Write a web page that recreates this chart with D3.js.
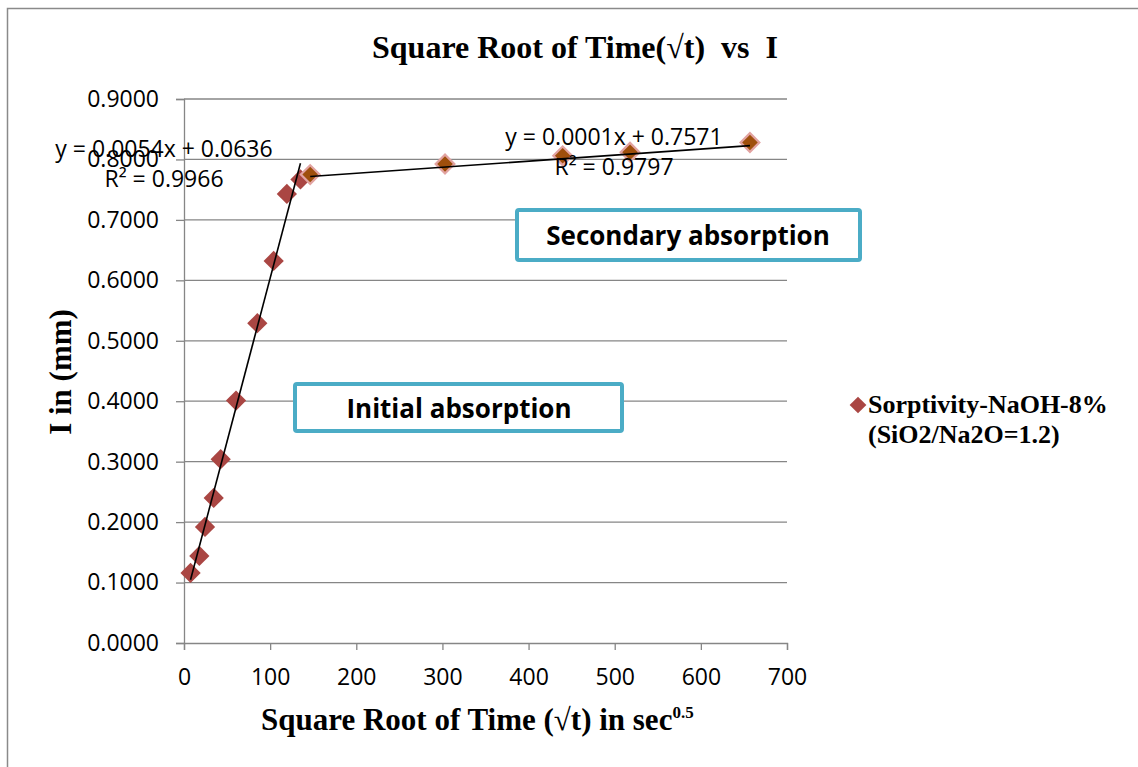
<!DOCTYPE html>
<html>
<head>
<meta charset="utf-8">
<script src="https://cdn.jsdelivr.net/npm/d3@7"></script>
<style>
  html, body { margin: 0; padding: 0; background: #ffffff; }
  svg { display: block; }
  .sans { font-family: "Open Sans", "Liberation Sans", sans-serif; }
  .serif { font-family: "Liberation Serif", "Times New Roman", serif; font-weight: bold; }
</style>
</head>
<body>
<svg id="chart" width="1138" height="767"></svg>
<script>
// Sorptivity test: cumulative absorption I (mm) against square root of time (sec^0.5)
const sqrtTimeInitial   = [7.6, 17.8, 24.4, 34.5, 42.6, 60.4, 85.1, 104.1, 119.4, 135.2];
const absorptionInitial = [0.116, 0.144, 0.192, 0.240, 0.304, 0.401, 0.529, 0.632, 0.743, 0.767];

const sqrtTimeSecondary   = [146.5, 303, 439.6, 517.8, 657];
const absorptionSecondary = [0.775, 0.7925, 0.806, 0.812, 0.828];

// Linear trendlines as reported on the chart
const trendInitial   = { slope: 0.0054, intercept: 0.0636, label: "y = 0.0054x + 0.0636", r2: "R² = 0.9966" };
const trendSecondary = { slope: 0.0001, intercept: 0.7571, label: "y = 0.0001x + 0.7571", r2: "R² = 0.9797" };

const xTicks = [0, 100, 200, 300, 400, 500, 600, 700];
const yTicks = [0, 0.1, 0.2, 0.3, 0.4, 0.5, 0.6, 0.7, 0.8, 0.9];

const seriesName = ["Sorptivity-NaOH-8%", "(SiO2/Na2O=1.2)"];

const svg = d3.select("#chart");
const plot = { left: 184, right: 787, top: 99, bottom: 643 };

const x = d3.scaleLinear().domain([0, 700]).range([plot.left, plot.right]);
const y = d3.scaleLinear().domain([0, 0.9]).range([plot.bottom, plot.top]);

const gridColor = "#868686";

// Outer chart frame
svg.append("rect")
  .attr("x", 7.5).attr("y", 8.5)
  .attr("width", 1200).attr("height", 800)
  .attr("fill", "#ffffff")
  .attr("stroke", "#8a8a8a").attr("stroke-width", 1.5);

// Horizontal gridlines
svg.append("g").selectAll("line")
  .data(yTicks.filter(v => v > 0))
  .join("line")
  .attr("x1", plot.left).attr("x2", plot.right)
  .attr("y1", d => y(d)).attr("y2", d => y(d))
  .attr("stroke", gridColor).attr("stroke-width", 1.3);

// Y axis
const yAxis = svg.append("g")
  .attr("transform", `translate(${plot.left},0)`)
  .call(d3.axisLeft(y).tickValues(yTicks).tickFormat(d3.format(".4f")).tickSize(8).tickPadding(17));
yAxis.select(".domain").attr("stroke", gridColor).attr("stroke-width", 1.3);
yAxis.selectAll(".tick line").attr("stroke", gridColor).attr("stroke-width", 1.3);
yAxis.selectAll("text")
  .attr("class", "sans").attr("font-size", 23).attr("fill", "#000");

// X axis
const xAxis = svg.append("g")
  .attr("transform", `translate(0,${plot.bottom})`)
  .call(d3.axisBottom(x).tickValues(xTicks).tickFormat(d3.format("d")).tickSize(7).tickPadding(19));
xAxis.select(".domain").attr("stroke", gridColor).attr("stroke-width", 1.3);
xAxis.selectAll(".tick line").attr("stroke", gridColor).attr("stroke-width", 1.3);
xAxis.selectAll("text")
  .attr("class", "sans").attr("font-size", 23).attr("fill", "#000");

// Trendline segment over the x-range of each set
function trendSegment(xs, t) {
  const [x0, x1] = d3.extent(xs);
  return [[x0, t.intercept + t.slope * x0], [x1, t.intercept + t.slope * x1]];
}
const line = d3.line().x(d => x(d[0])).y(d => y(d[1]));

// Diamond markers
const initialPts = sqrtTimeInitial.map((v, i) => [v, absorptionInitial[i]]);
const secondaryPts = sqrtTimeSecondary.map((v, i) => [v, absorptionSecondary[i]]);

svg.append("g").selectAll("path")
  .data(initialPts)
  .join("path")
  .attr("d", d3.symbol(d3.symbolSquare, 205))
  .attr("transform", d => `translate(${x(d[0])},${y(d[1])}) rotate(45)`)
  .attr("fill", "#AA4643");

svg.append("g").selectAll("path")
  .data(secondaryPts)
  .join("path")
  .attr("d", d3.symbol(d3.symbolSquare, 175))
  .attr("transform", d => `translate(${x(d[0])},${y(d[1])}) rotate(45)`)
  .attr("fill", "#9F4F0C")
  .attr("stroke", "#E2A3A1").attr("stroke-width", 2.2);

// Trendlines on top of the markers
svg.append("path")
  .attr("d", line(trendSegment(sqrtTimeInitial, trendInitial)))
  .attr("fill", "none").attr("stroke", "#000").attr("stroke-width", 1.6);
svg.append("path")
  .attr("d", line(trendSegment(sqrtTimeSecondary, trendSecondary)))
  .attr("fill", "none").attr("stroke", "#000").attr("stroke-width", 1.6);

// Trendline equations
const eqs = [
  { t: trendInitial, cx: 164, by: 157 },
  { t: trendSecondary, cx: 614, by: 145 }
];
eqs.forEach(e => {
  svg.append("text").attr("class", "sans")
    .attr("x", e.cx).attr("y", e.by).attr("text-anchor", "middle")
    .attr("font-size", 23).text(e.t.label);
  svg.append("text").attr("class", "sans")
    .attr("x", e.cx).attr("y", e.by + 30).attr("text-anchor", "middle")
    .attr("font-size", 23).text(e.t.r2);
});

// Annotation boxes
const boxes = [
  { label: "Secondary absorption", x: 517, y: 210, w: 343, h: 50, tx: 688, ty: 245 },
  { label: "Initial absorption", x: 295, y: 384, w: 327, h: 47, tx: 459, ty: 418 }
];
boxes.forEach(b => {
  svg.append("rect")
    .attr("x", b.x).attr("y", b.y).attr("width", b.w).attr("height", b.h)
    .attr("rx", 2)
    .attr("fill", "#fff").attr("stroke", "#4BACC6").attr("stroke-width", 4);
  svg.append("text").attr("class", "sans")
    .attr("x", b.tx).attr("y", b.ty).attr("text-anchor", "middle")
    .attr("font-size", 26).attr("font-weight", "bold").text(b.label);
});

// Title
svg.append("text").attr("class", "serif")
  .attr("x", 575).attr("y", 58).attr("text-anchor", "middle")
  .attr("font-size", 32).style("white-space", "pre")
  .text("Square Root of Time(√t)  vs  I");

// Axis titles
const xt = svg.append("text").attr("class", "serif")
  .attr("x", 261).attr("y", 730).attr("font-size", 31);
xt.append("tspan").text("Square Root of Time (√t) in sec");
xt.append("tspan").attr("font-size", 17).attr("dy", -12).text("0.5");

svg.append("text").attr("class", "serif")
  .attr("transform", "translate(71,372) rotate(-90)")
  .attr("text-anchor", "middle").attr("font-size", 31)
  .text("I in (mm)");

// Legend
svg.append("path")
  .attr("d", d3.symbol(d3.symbolSquare, 140))
  .attr("transform", "translate(858,405) rotate(45)")
  .attr("fill", "#AA4643");
seriesName.forEach((s, i) => {
  svg.append("text").attr("class", "serif")
    .attr("x", 868).attr("y", 413 + i * 30).attr("font-size", 26)
    .text(s);
});
</script>
</body>
</html>
